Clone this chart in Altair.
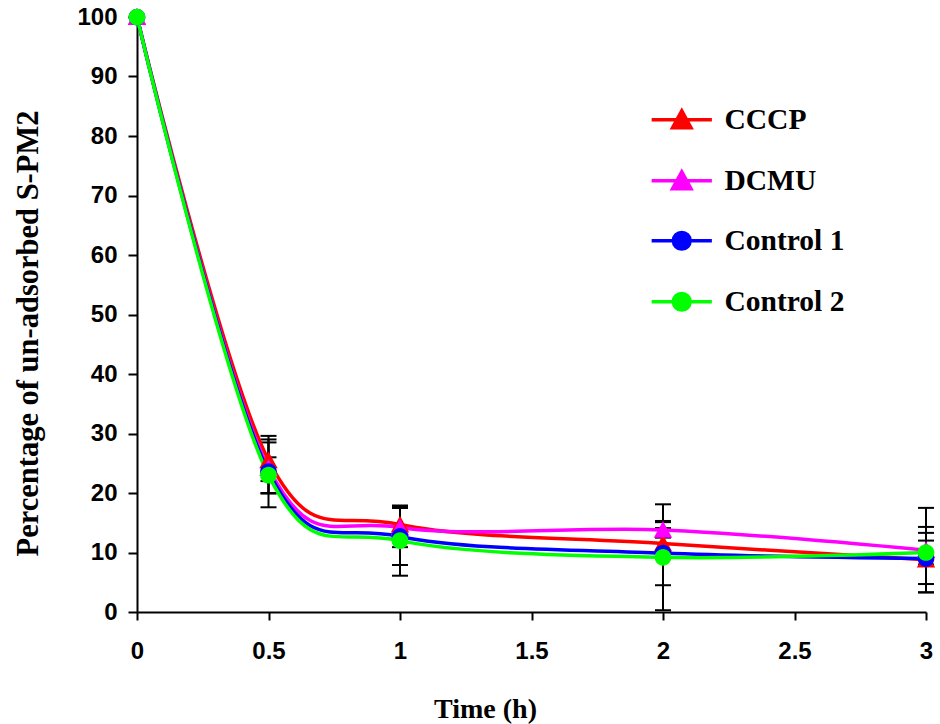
import altair as alt
import pandas as pd

times = [0, 0.5, 1, 2, 3]
series_names = ["CCCP", "DCMU", "Control 1", "Control 2"]
colors = ["#FF0000", "#FF00FF", "#0000FF", "#00FF00"]

cccp = [100, 25.5, 14.7, 11.5, 8.8]
dcmu = [100, 24.2, 14.2, 13.8, 10.4]
control1 = [100, 23.6, 12.7, 9.9, 9.0]
control2 = [100, 23.0, 12.0, 9.2, 10.0]

cccp_err = [0, 3.5, 3.0, 2.6, 5.5]
dcmu_err = [0, 4.3, 3.3, 1.3, 7.1]
control1_err = [0, 6.0, 4.8, 5.4, 4.3]
control2_err = [0, 3.0, 5.9, 8.9, 2.0]

x_ticks = [0, 0.5, 1, 1.5, 2, 2.5, 3]
y_ticks = list(range(0, 101, 10))

rows = []
for name, col, vals, errs in zip(series_names, colors, [cccp, dcmu, control1, control2],
                                 [cccp_err, dcmu_err, control1_err, control2_err]):
    for t, v, e in zip(times, vals, errs):
        rows.append({"time": t, "value": v, "series": name, "hex": col,
                     "lo": v - e, "hi": v + e})
df = pd.DataFrame(rows)

caps = pd.concat([
    df[["time", "series", "lo"]].rename(columns={"lo": "cap"}),
    df[["time", "series", "hi"]].rename(columns={"hi": "cap"}),
])

tri = "M-3.6,0H3.6M0,-1.05L1.1,0.95H-1.1Z"
circ = "M-3.6,0H3.6M-1,0A1,1,0,1,0,1,0A1,1,0,1,0,-1,0Z"
shapes = [tri, tri, circ, circ]

x_enc = alt.X("time:Q", scale=alt.Scale(domain=[0, 3], nice=False),
              axis=alt.Axis(values=x_ticks, format="~g", title="Time (h)", grid=False,
                            labelFont="Liberation Sans", labelFontSize=24, labelFontWeight="bold",
                            labelColor="black", labelPadding=19, tickSize=8, tickWidth=2,
                            tickColor="black", domainColor="black", domainWidth=2,
                            titleFont="Liberation Serif", titleFontSize=28, titleFontWeight="bold",
                            titleColor="black", titleX=348, titleY=105, titleBaseline="alphabetic",
                            titleAlign="center", labelFlush=False))
y_axis = alt.Axis(values=y_ticks, title="Percentage of un-adsorbed S-PM2", grid=False,
                  labelFont="Liberation Sans", labelFontSize=24, labelFontWeight="bold",
                  labelColor="black", labelPadding=11, tickSize=9, tickWidth=2,
                  tickColor="black", domainColor="black", domainWidth=2,
                  titleFont="Liberation Serif", titleFontSize=30.5, titleFontWeight="bold",
                  titleColor="black", titleX=-100, titleY=316, titleBaseline="alphabetic",
                  titleAlign="center", titleAngle=270, labelFlush=False)
y_scale = alt.Scale(domain=[0, 100], nice=False)

base = alt.Chart(df)

bars = base.mark_rule(color="black", strokeWidth=2).encode(
    x=x_enc,
    y=alt.Y("lo:Q", scale=y_scale, axis=y_axis),
    y2="hi:Q",
)

cap_marks = alt.Chart(caps).mark_tick(color="black", orient="horizontal", size=16,
                                      thickness=2, opacity=1).encode(
    x="time:Q",
    y=alt.Y("cap:Q", scale=y_scale),
)

lines = base.mark_line(strokeWidth=3.5, interpolate="cardinal", tension=0).encode(
    x="time:Q",
    y=alt.Y("value:Q", scale=y_scale),
    color=alt.Color("hex:N", scale=None),
    detail="series:N",
)

legend = alt.Legend(
    title=None, orient="none", legendX=530, legendY=88, padding=0,
    labelFont="Liberation Serif", labelFontSize=29.5, labelFontWeight="bold", labelColor="black",
    labelOffset=28, symbolSize=280, rowPadding=29, symbolStrokeWidth=3.5, symbolOpacity=1,
)

points = base.mark_point(filled=True, size=280, opacity=1).encode(
    x="time:Q",
    y=alt.Y("value:Q", scale=y_scale),
    fill=alt.Fill("series:N", scale=alt.Scale(domain=series_names, range=colors), legend=legend),
    stroke=alt.Stroke("series:N", scale=alt.Scale(domain=series_names, range=colors), legend=legend),
    shape=alt.Shape("series:N", scale=alt.Scale(domain=series_names, range=shapes), legend=legend),
    strokeWidth=alt.value(0),
)

chart = alt.layer(bars, cap_marks, lines, points).properties(
    width=789, height=595,
    autosize=alt.AutoSizeParams(type="none"),
    padding={"left": 137, "top": 17, "right": 14, "bottom": 112},
    background="white",
).configure_view(stroke=None)

chart.save("out.html", embed_options={"renderer": "svg", "actions": False})
